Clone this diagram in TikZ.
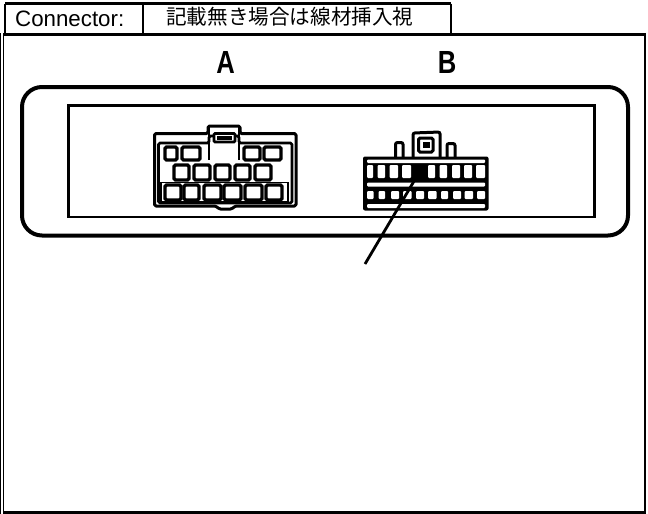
\documentclass[tikz,border=0pt]{standalone}
\usepackage{fontspec}
\setmainfont{Liberation Sans}
\newfontfamily\cjkfont{Noto Sans CJK JP}
\tikzset{
  frameline/.style={draw=black,line width=2.6pt},
  frameleft/.style={draw=black,line width=1.4pt},
  thinbox/.style={draw=black,line width=2.2pt},
  housing/.style={draw=black,line width=4pt,rounded corners=20pt},
  panel/.style={draw=black,line width=2.4pt},
  body/.style={draw=black,line width=2.8pt,rounded corners=1.5pt,fill=white,line join=round},
  cell/.style={draw=black,line width=3.2pt,fill=white,rounded corners=1.5pt},
  slot/.style={fill=white,rounded corners=1pt},
  lead/.style={draw=black,line width=2.8pt},
  head/.style={inner sep=0pt,anchor=base west,font=\fontsize{22.3}{22}\selectfont},
  letter/.style={inner sep=0pt,anchor=base,font=\bfseries\fontsize{32}{32}\selectfont}
}
\newcommand{\cellbox}[4]{\path[cell] (#1,#2) rectangle (#3,#4);}
\newcommand{\slotbox}[4]{\path[slot] (#1,#2) rectangle (#3,#4);}
\begin{document}
\begin{tikzpicture}[x=1pt,y=-1pt]
\useasboundingbox (0,0) rectangle (648,514);
% outer frame
\path[frameleft] (0.7,33) -- (0.7,514);
\path[frameleft] (3.4,34) -- (3.4,513);
\path[frameline] (3,34.5) -- (645,34.5) -- (645,512.6) -- (3,512.6);
% header
\path[thinbox] (5,3.5) -- (451,3.5);
\path[thinbox] (5,3.5) -- (5,33);
\path[thinbox] (143,3.5) -- (143,33);
\path[thinbox] (451,3.5) -- (451,33);
\node[head] (conn) at (15,26) {Connector:};
\node[head,font=\fontsize{20.6}{20}\selectfont] (note) at (166,24.5) {\cjkfont 記載無き場合は線材挿入視};
% letters
\node[letter,xscale=.8] (la) at (225.5,73) {A};
\node[letter,xscale=.8] (lb) at (447,73) {B};
% housing and panel
\path[housing] (22,87) rectangle (628,235.5);
\path[panel] (68.5,105.5) rectangle (595,217);
\draw[line width=3.6pt] (594.5,105) -- (594.5,217);
% connector A
\path[body,line width=3pt] (154.5,133.5) -- (208,133.5) -- (208,126) -- (240,126) -- (240,133.5) -- (296,133.5) -- (296,206) -- (235,206) -- (232,209) -- (219,209) -- (216,206) -- (154.5,206) -- cycle;
\path[body] (158.5,143) -- (209,143) -- (209,136) -- (239,136) -- (239,143) -- (292,143) -- (292,203) -- (158.5,203) -- cycle;
\path[draw=black,line width=2.8pt,fill=white,rounded corners=1pt] (214,133.5) rectangle (235,142);
\path[fill=black] (217,136) rectangle (232,139.5);
\path[draw=black,line width=2.6pt] (209,127) -- (209,160);
\path[draw=black,line width=2.6pt] (239,127) -- (239,160);
\cellbox{165}{147}{177}{160}
\cellbox{182}{147}{200}{160}
\cellbox{244}{147}{260}{160}
\cellbox{264}{147}{281}{160}
\cellbox{174}{165}{189}{180}
\cellbox{194}{165}{210}{180}
\cellbox{215}{165}{230}{180}
\cellbox{235}{165}{250}{180}
\cellbox{255}{165}{271}{180}
\cellbox{165}{185}{181}{200}
\cellbox{184}{185}{199}{200}
\cellbox{204}{185}{221}{200}
\cellbox{224}{185}{241}{200}
\cellbox{245}{185}{262}{200}
\cellbox{266}{185}{282}{200}
\path[draw=black,line width=1.8pt] (161,182.5) -- (161,201.5) -- (288,201.5) -- (288,182.5) -- cycle;
% connector B
\path[draw=black,line width=3pt,rounded corners=2pt] (395.5,157) -- (395.5,142.5) -- (403,142.5) -- (403,157);
\path[draw=black,line width=3pt,rounded corners=2pt] (413,157) -- (413,133) -- (440,132) -- (440,157);
\path[draw=black,line width=3pt,rounded corners=2pt] (447,157) -- (447,143.5) -- (455,143.5) -- (455,157);
\path[draw=black,line width=3pt,rounded corners=1.5pt] (418.5,138) rectangle (433,152);
\path[fill=black] (423,142) rectangle (429.5,148);
\path[fill=black,rounded corners=2pt] (363,156.5) rectangle (488.5,210.5);
\slotbox{367}{159.5}{485}{163}
\slotbox{367}{182.5}{485}{186.5}
\slotbox{367}{204}{485}{208}
\slotbox{367}{165}{373}{178}
\slotbox{377.5}{165}{385}{178}
\slotbox{389.5}{165}{398}{178}
\slotbox{402}{165}{411}{178}
\slotbox{428}{165}{435}{178}
\slotbox{439.5}{165}{447}{178}
\slotbox{452}{165}{460}{178}
\slotbox{464}{165}{472}{178}
\slotbox{476}{165}{485}{178}
\slotbox{367}{191}{373.5}{199}
\slotbox{378.5}{191}{385}{199}
\slotbox{391}{191}{399}{199}
\slotbox{403}{191}{411.5}{199}
\slotbox{416}{191}{424}{199}
\slotbox{428}{191}{436.5}{199}
\slotbox{441}{191}{448}{199}
\slotbox{453}{191}{461}{199}
\slotbox{464.5}{191}{473}{199}
\slotbox{477}{191}{485}{199}
% leader
\coordinate (tipin) at (420,171);
\coordinate (tipout) at (365,264);
\path[lead] (tipin) -- (tipout);
\end{tikzpicture}
\end{document}
